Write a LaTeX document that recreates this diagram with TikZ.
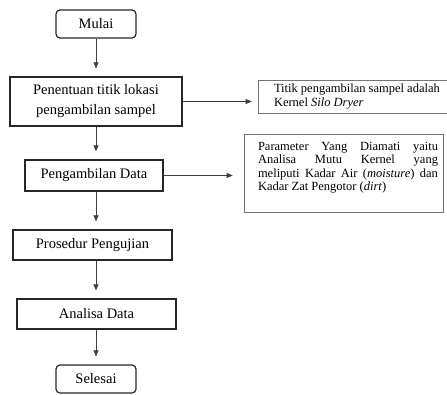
\documentclass[tikz,border=0pt]{standalone}
\usepackage{fontspec}
\setmainfont{Liberation Serif}
\usepackage{tikz}
\usetikzlibrary{arrows.meta}
\tikzset{
  term/.style={draw=black!85, line width=1.2pt, rounded corners=4pt, minimum width=80pt,
               minimum height=28pt, inner sep=0pt, font=\fontsize{14.5}{18}\selectfont},
  proc/.style={draw=black!85, line width=1.2pt, inner sep=0pt, align=center,
               font=\fontsize{14.5}{20}\selectfont},
  note/.style={draw=black!55, line width=0.6pt, inner sep=0pt,
               font=\fontsize{12.5}{13.5}\selectfont},
  fl/.style={draw=black!75, line width=0.6pt, -{Triangle[length=6pt,width=5pt]}},
}
\begin{document}
\begin{tikzpicture}[x=1pt, y=-1pt]
  \useasboundingbox (0,0) rectangle (447,394);
  \coordinate (axis) at (96,0);
  \node[term] (mulai) at (96,24) {Mulai};
  \node[proc, minimum width=172pt, minimum height=49pt] (lokasi) at (96,101.5)
    {Penentuan titik lokasi\\pengambilan sampel};
  \node[proc, minimum width=138pt, minimum height=31pt] (ambil) at (94,175.5) {Pengambilan Data};
  \node[proc, minimum width=159pt, minimum height=30pt] (uji) at (92.5,245) {Prosedur Pengujian};
  \node[proc, minimum width=159pt, minimum height=30pt] (analisa) at (96.5,314) {Analisa Data};
  \node[term] (selesai) at (96,379) {Selesai};
  % keterangan
  \node[note, minimum width=189pt, minimum height=33pt] (titik) at (352.5,96.5)
    {\hspace{14pt}\parbox{171pt}{\raggedright Titik pengambilan sampel adalah\\
     Kernel \textit{Silo Dryer}}\hspace{4pt}};
  \node[note, minimum width=199pt, minimum height=78pt] (param) at (343.5,173)
    {\hspace{9pt}\parbox[c][62pt][t]{180pt}{%
     Parameter\hfill Yang\hfill Diamati\hfill yaitu\\
     Analisa\hfill Mutu\hfill Kernel\hfill yang\\
     meliputi\hfill Kadar\hfill Air\hfill (\textit{moisture})\hfill dan\\
     Kadar Zat Pengotor (\textit{dirt})}\hspace{10pt}};
  \foreach \u/\v in {mulai/lokasi,lokasi/ambil,ambil/uji,uji/analisa,analisa/selesai}
    \draw[fl, shorten >=8pt] (axis |- \u.south) -- (axis |- \v.north);
  \draw[fl, shorten >=6pt] (lokasi.east) -- (lokasi.east -| titik.west);
  \draw[fl, shorten >=11pt] (ambil.east) -- (ambil.east -| param.west);
\end{tikzpicture}
\end{document}
